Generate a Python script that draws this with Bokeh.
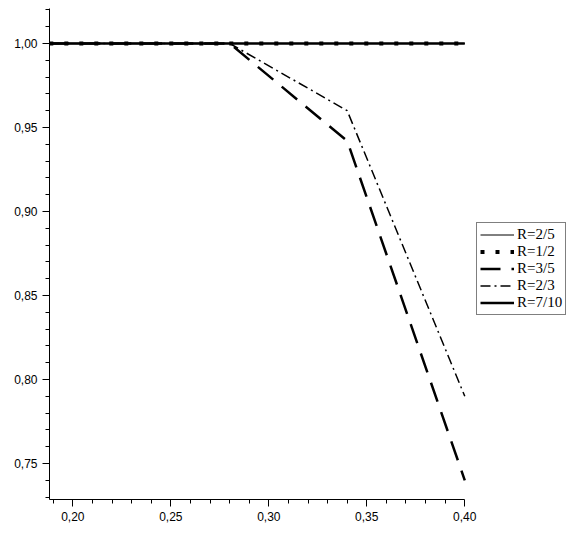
from bokeh.plotting import figure
from bokeh.models import FixedTicker, CustomJSTickFormatter, Legend, LegendItem, Range1d
from bokeh.embed import file_html
from bokeh.resources import INLINE

# data
x_vals = [0.188, 0.28, 0.34, 0.40]
r_2_5 = [1.0, 1.0, 1.0, 1.0]
r_1_2 = [1.0, 1.0, 1.0, 1.0]
r_3_5 = [1.0, 1.0, 0.942, 0.740]
r_2_3 = [1.0, 1.0, 0.960, 0.790]
r_7_10 = [1.0, 1.0, 1.0, 1.0]

x_ticks = [0.20, 0.25, 0.30, 0.35, 0.40]
x_minor = [0.19, 0.21, 0.22, 0.23, 0.24, 0.26, 0.27, 0.28, 0.29, 0.31, 0.32, 0.33, 0.34,
           0.36, 0.37, 0.38, 0.39]
y_ticks = [0.75, 0.80, 0.85, 0.90, 0.95, 1.00]
y_minor = [0.73, 0.74, 0.76, 0.77, 0.78, 0.79, 0.81, 0.82, 0.83, 0.84, 0.86, 0.87, 0.88, 0.89,
           0.91, 0.92, 0.93, 0.94, 0.96, 0.97, 0.98, 0.99, 1.01, 1.02]

x_lo, x_axis_hi, x_hi = 0.1881, 0.40, 0.4519
y_lo, y_hi = 0.7286, 1.0208

p = figure(width=566, height=533, output_backend="svg", toolbar_location=None,
           x_range=Range1d(x_lo, x_hi), y_range=Range1d(y_lo, y_hi),
           min_border_left=49, min_border_right=0, min_border_top=8, min_border_bottom=34)
p.outline_line_color = None
p.xgrid.visible = False
p.ygrid.visible = False
p.background_fill_color = "white"
p.border_fill_color = "white"

fmt = CustomJSTickFormatter(code="return tick.toFixed(2).replace('.', ',');")
for ax, ticks, minor, bnds in ((p.xaxis[0], x_ticks, x_minor, (x_lo, x_axis_hi)),
                               (p.yaxis[0], y_ticks, y_minor, (y_lo, y_hi))):
    ax.ticker = FixedTicker(ticks=ticks, minor_ticks=minor)
    ax.formatter = fmt
    ax.bounds = bnds
    ax.axis_line_color = "black"
    ax.axis_line_width = 1
    ax.major_tick_line_color = "black"
    ax.minor_tick_line_color = "black"
    ax.major_tick_out = 7
    ax.major_tick_in = 0
    ax.minor_tick_out = 4
    ax.minor_tick_in = 0
    ax.major_label_text_font = "Liberation Sans"
    ax.major_label_text_font_size = "12px"
    ax.major_label_text_color = "black"
    ax.major_label_standoff = 5

l5 = p.line(x_vals, r_7_10, line_color="black", line_width=2.5)
l1 = p.line(x_vals, r_2_5, line_color="black", line_width=1)
l2 = p.line(x_vals, r_1_2, line_color="black", line_width=4, line_dash="4 11")
l3 = p.line(x_vals, r_3_5, line_color="black", line_width=2.5, line_dash="20 11")
l4 = p.line(x_vals, r_2_3, line_color="black", line_width=1.5, line_dash="10 4 2 4")

legend = Legend(items=[LegendItem(label="R=2/5", renderers=[l1]),
                       LegendItem(label="R=1/2", renderers=[l2]),
                       LegendItem(label="R=3/5", renderers=[l3]),
                       LegendItem(label="R=2/3", renderers=[l4]),
                       LegendItem(label="R=7/10", renderers=[l5])],
                location=(427, 184))
legend.margin = 0
legend.padding = 3
legend.spacing = 0
legend.label_height = 17
legend.glyph_height = 17
legend.glyph_width = 34
legend.label_standoff = 3
legend.label_text_font = "Liberation Serif"
legend.label_text_font_size = "15px"
legend.label_text_color = "black"
legend.border_line_color = "black"
legend.border_line_width = 1
legend.background_fill_alpha = 1
p.add_layout(legend, "center")

open("out.html", "w").write(file_html(p, INLINE))
